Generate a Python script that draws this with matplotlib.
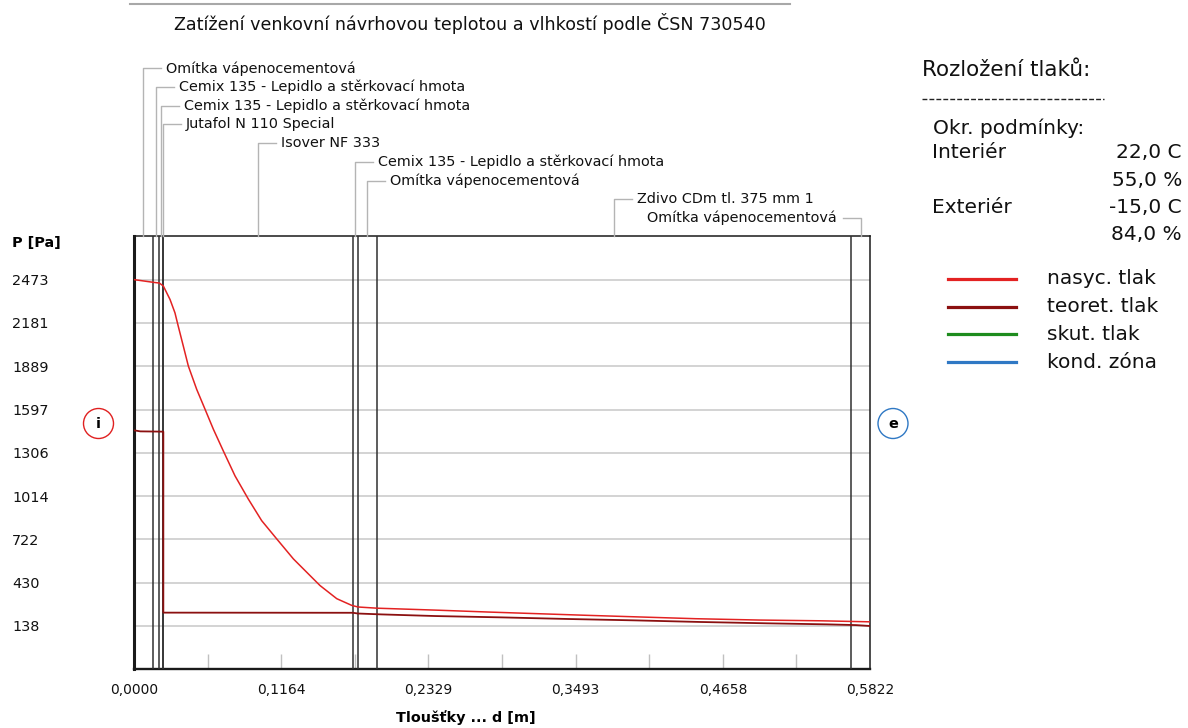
import numpy as np
import matplotlib
matplotlib.use("Agg")
import matplotlib.pyplot as plt
from matplotlib.lines import Line2D
from matplotlib.patches import Circle
from matplotlib.transforms import IdentityTransform

W, H = 1188, 728

# skladba konstrukce (od interiéru), tloušťky v m
layer_names = [
    "Omítka vápenocementová",
    "Cemix 135 - Lepidlo a stěrkovací hmota",
    "Cemix 135 - Lepidlo a stěrkovací hmota",
    "Jutafol N 110 Special",
    "Isover NF 333",
    "Cemix 135 - Lepidlo a stěrkovací hmota",
    "Omítka vápenocementová",
    "Zdivo CDm tl. 375 mm 1",
    "Omítka vápenocementová",
]
layer_d = [0.015, 0.005, 0.003, 0.0002, 0.15, 0.004, 0.015, 0.375, 0.015]

# nasycený tlak vodní páry [Pa]
sat_x = [0.0, 0.015, 0.020, 0.0232, 0.0285, 0.0324, 0.0350, 0.0390, 0.0430, 0.0496,
         0.0562, 0.0628, 0.0706, 0.0799, 0.0904, 0.1010, 0.1129, 0.1261, 0.1471,
         0.1604, 0.1722, 0.1772, 0.1922, 0.2418, 0.2803, 0.3189, 0.3578,
         0.3993, 0.4445, 0.4946, 0.5430, 0.5822]
sat_p = [2473, 2455, 2450, 2430, 2339, 2249, 2159, 2025, 1890, 1733,
         1599, 1464, 1319, 1150, 994, 848, 725, 590, 411,
         322, 277, 266, 258, 244, 232, 221, 210,
         199, 187, 178, 173, 166]

# teoretický částečný tlak vodní páry [Pa]
teo_x = [0.0, 0.005, 0.015, 0.0232, 0.0232, 0.1732, 0.1772, 0.1960, 0.2386,
         0.2910, 0.3440, 0.3956, 0.4480, 0.5008, 0.5480, 0.5711, 0.5822]
teo_p = [1457, 1450, 1449, 1448, 228, 227, 222, 216, 205,
         196, 185, 176, 165, 156, 149, 144, 138]

p_ticks = [138, 430, 722, 1014, 1306, 1597, 1889, 2181, 2473]
p_labels = ["138", "430", "722", "1014", "1306", "1597", "1889", "2181", "2473"]
d_ticks = [0.0, 0.1164, 0.2329, 0.3493, 0.4658, 0.5822]
d_labels = ["0,0000", "0,1164", "0,2329", "0,3493", "0,4658", "0,5822"]

legend_labels = ["nasyc. tlak", "teoret. tlak", "skut. tlak", "kond. zóna"]
legend_colors = ["#e32222", "#8b1010", "#1e8c1e", "#2f78c4"]
cond_names = ["Interiér", "Exteriér"]
cond_temp = ["22,0 C", "-15,0 C"]
cond_rh = ["55,0 %", "84,0 %"]


def fx(x):
    return x / W


def fy(y):
    return 1 - y / H


fig = plt.figure(figsize=(W / 100, H / 100), dpi=100)
fig.patch.set_facecolor("white")

ax_l, ax_r, ax_t, ax_b = 134, 870, 236.3, 669.3
ax = fig.add_axes([fx(ax_l), fy(ax_b), (ax_r - ax_l) / W, (ax_b - ax_t) / H])
d_total = sum(layer_d)
ax.set_xlim(0, d_total)
ax.set_ylim(-154, 2765)

ax.set_yticks(p_ticks)
ax.set_yticklabels(p_labels)
ax.set_xticks(d_ticks)
ax.set_xticklabels(d_labels)
ax.tick_params(axis="y", length=0, pad=87.8, labelsize=10.4, colors="#111111")
ax.tick_params(axis="x", length=0, pad=10, labelsize=10, colors="#111111")
for lab in ax.get_yticklabels():
    lab.set_horizontalalignment("left")

ax.yaxis.grid(True, color="#cccccc", lw=1.2)
ax.set_axisbelow(True)

# krátké značky na ose x
minor = np.linspace(0, d_total, 11)[1:-1]
ax.vlines(minor, 0, 0.035, transform=ax.get_xaxis_transform(), color="#c0c0c0", lw=1)

# rozhraní vrstev
edges = np.cumsum(layer_d)
for e in edges[:-1]:
    ax.axvline(e, color="#303030", lw=1.1, zorder=3)

for side, w in [("left", 2.2), ("bottom", 1.7), ("top", 1.1), ("right", 1.1)]:
    ax.spines[side].set_linewidth(w)
    ax.spines[side].set_color("#1a1a1a")

ax.plot(sat_x, sat_p, color=legend_colors[0], lw=1.1, zorder=4)
ax.plot(teo_x, teo_p, color=legend_colors[1], lw=1.3, zorder=4)

# popisky vrstev s vynášecími čarami
mids = edges - np.array(layer_d) / 2
for i, (name, m) in enumerate(zip(layer_names, mids)):
    xp = ax.transData.transform((m, 0))[0]
    yr = 68.3 + 18.7 * i
    last = i == len(layer_names) - 1
    xh = xp - 18 if last else xp + 18
    fig.add_artist(Line2D([fx(xp), fx(xp), fx(xh)], [fy(ax_t), fy(yr), fy(yr)],
                          color="#b4b4b4", lw=1))
    if last:
        fig.text(fx(xp - 24), fy(yr), name, ha="right", va="center", fontsize=10.4, color="#111111")
    else:
        fig.text(fx(xp + 23), fy(yr), name, ha="left", va="center", fontsize=10.4, color="#111111")

# nadpis
fig.add_artist(Line2D([fx(130), fx(790)], [fy(3.5), fy(3.5)], color="#a8a8a8", lw=1.5))
fig.text(fx(469.5), fy(23), "Zatížení venkovní návrhovou teplotou a vlhkostí podle ČSN 730540",
         ha="center", va="center", fontsize=12.6, color="#111111")

fig.text(fx(12), fy(243), "P [Pa]", ha="left", va="center", fontsize=10.4, fontweight="bold")
fig.text(fx(466), fy(718), "Tloušťky ... d [m]", ha="center", va="center", fontsize=10.4,
         fontweight="bold")

# značky interiér / exteriér
for cx, cy, col, t in [(98.5, 423.5, "#e02020", "i"), (893, 423.5, "#2f78c4", "e")]:
    fig.add_artist(Circle((cx, H - cy), 15, transform=IdentityTransform(), fill=False,
                          ec=col, lw=1))
    fig.text(fx(cx), fy(cy), t, ha="center", va="center", fontsize=10.4, fontweight="bold")

# pravý panel
fig.text(fx(922), fy(70), "Rozložení tlaků:", ha="left", va="center", fontsize=15.5, color="#111111")
fig.add_artist(Line2D([fx(922), fx(1104)], [fy(99), fy(99)], color="#222222", lw=1,
                      dashes=(3.5, 1.5)))
fig.text(fx(933), fy(128), "Okr. podmínky:", ha="left", va="center", fontsize=14.5, color="#111111")
for k in range(2):
    y0 = 153 + 54.5 * k
    fig.text(fx(932), fy(y0), cond_names[k], ha="left", va="center", fontsize=14.5, color="#111111")
    fig.text(fx(1182), fy(y0), cond_temp[k], ha="right", va="center", fontsize=14.5, color="#111111")
    fig.text(fx(1182), fy(y0 + 27), cond_rh[k], ha="right", va="center", fontsize=14.5, color="#111111")

for k, (lab, col) in enumerate(zip(legend_labels, legend_colors)):
    y0 = 279 + 27.7 * k
    fig.add_artist(Line2D([fx(948), fx(1016)], [fy(y0), fy(y0)], color=col, lw=2.3))
    fig.text(fx(1047), fy(y0), lab, ha="left", va="center", fontsize=14.5, color="#111111")

fig.savefig("out.png", dpi=100)
